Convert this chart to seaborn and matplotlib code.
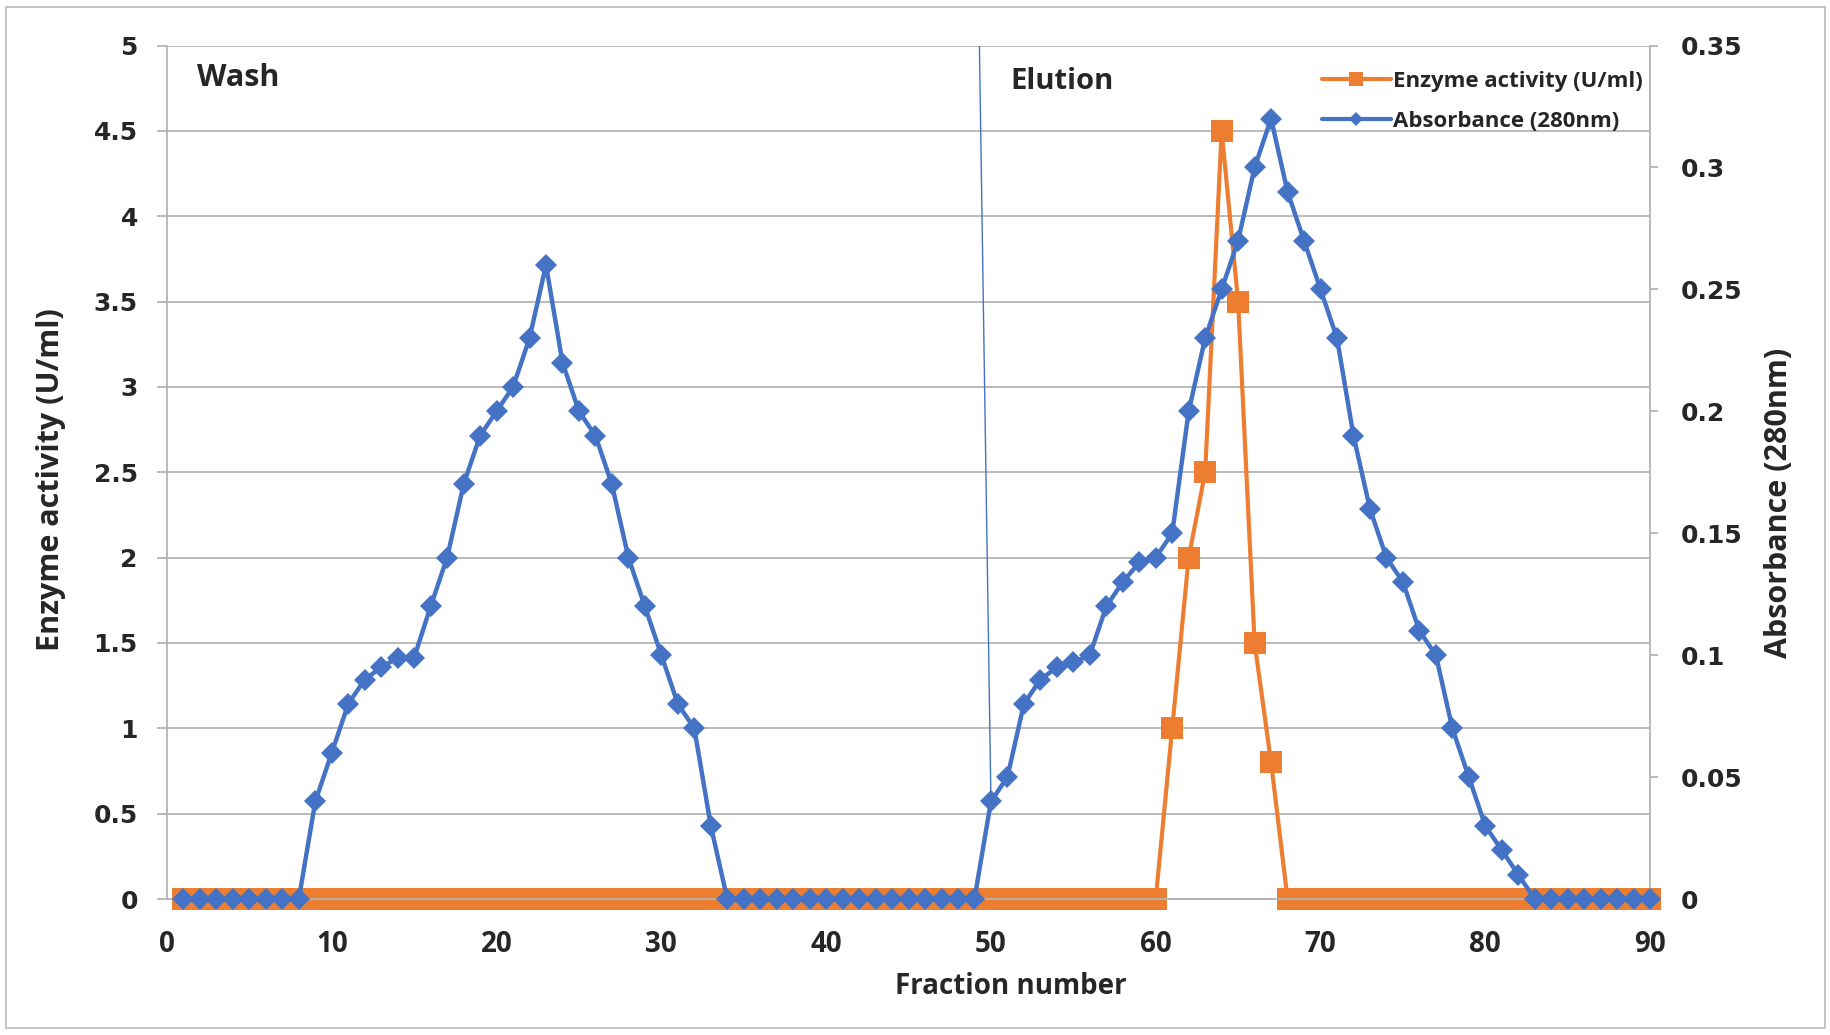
import matplotlib
matplotlib.use("Agg")
import matplotlib.pyplot as plt
import seaborn as sns
import numpy as np
from matplotlib.lines import Line2D
from matplotlib.patches import Rectangle

# ---- data ----
fractions = list(range(1, 91))

enzyme_activity = [0.0] * 60 + [1.0, 2.0, 2.5, 4.5, 3.5, 1.5, 0.8] + [0.0] * 23

absorbance = ([0.0] * 8 +
              [0.04, 0.06, 0.08, 0.09, 0.095, 0.099, 0.099, 0.12, 0.14, 0.17,
               0.19, 0.20, 0.21, 0.23, 0.26, 0.22, 0.20, 0.19, 0.17, 0.14,
               0.12, 0.10, 0.08, 0.07, 0.03] +
              [0.0] * 16 +
              [0.04, 0.05, 0.08, 0.09, 0.095, 0.097, 0.10, 0.12, 0.13, 0.138,
               0.14, 0.15, 0.20, 0.23, 0.25, 0.27, 0.30, 0.32, 0.29, 0.27,
               0.25, 0.23, 0.19, 0.16, 0.14, 0.13, 0.11, 0.10, 0.07, 0.05,
               0.03, 0.02, 0.01] +
              [0.0] * 8)

x_ticks = [0, 10, 20, 30, 40, 50, 60, 70, 80, 90]
left_ticks = [0, 0.5, 1, 1.5, 2, 2.5, 3, 3.5, 4, 4.5, 5]
left_ticklabels = ["0", "0.5", "1", "1.5", "2", "2.5", "3", "3.5", "4", "4.5", "5"]
right_ticks = [0, 0.05, 0.1, 0.15, 0.2, 0.25, 0.3, 0.35]
right_ticklabels = ["0", "0.05", "0.1", "0.15", "0.2", "0.25", "0.3", "0.35"]

ORANGE = "#ED7D31"
BLUE = "#4472C4"
GRID = "#b4b4b4"

sns.set_style("white")
plt.rcParams["font.family"] = ["Open Sans", "DejaVu Sans"]

fig = plt.figure(figsize=(18.31, 10.35), dpi=100)
ax = fig.add_axes([0.0912, 0.1314, 0.8100, 0.8246])
ax2 = ax.twinx()

# enzyme activity (left axis)
sns.lineplot(x=fractions, y=enzyme_activity, ax=ax, color=ORANGE, marker="s",
             markersize=16, markeredgewidth=0, linewidth=3.0, clip_on=False,
             legend=False, zorder=3)
# absorbance (right axis)
sns.lineplot(x=fractions, y=absorbance, ax=ax2, color=BLUE, marker="D",
             markersize=11.5, markeredgewidth=0, linewidth=3.2, clip_on=False,
             legend=False, zorder=3)

# wash/elution divider line
ax2.plot([49.3, 50], [0.35, 0.04], color=BLUE, linewidth=1.0, zorder=2)

ax.set_xlim(0, 90)
ax.set_ylim(0, 5)
ax2.set_ylim(0, 0.35)

ax.set_xticks(x_ticks)
ax.set_xticklabels([str(t) for t in x_ticks], fontsize=20, fontweight="bold")
ax.set_yticks(left_ticks)
ax.set_yticklabels(left_ticklabels, fontsize=18, fontweight="bold",
                   family="DejaVu Sans")
ax2.set_yticks(right_ticks)
ax2.set_yticklabels(right_ticklabels, fontsize=18, fontweight="bold",
                    family="DejaVu Sans")

ax.grid(axis="y", color=GRID, linewidth=1.3)
ax.grid(axis="x", visible=False)
ax.set_axisbelow(True)

for a in (ax, ax2):
    a.spines["top"].set_visible(False)
    for s in ("left", "right", "bottom"):
        a.spines[s].set_color(GRID)
        a.spines[s].set_linewidth(1.3)
ax2.spines["left"].set_visible(False)
ax.spines["right"].set_visible(False)

ax.tick_params(axis="y", which="major", left=True, length=7, width=1.3,
               color=GRID, pad=14)
ax.tick_params(axis="x", which="major", bottom=False, length=0, pad=22)
ax2.tick_params(axis="y", which="major", right=True, length=6, width=1.3,
                color=GRID, pad=16)

ax.set_xlabel("Fraction number", fontsize=20, fontweight="bold")
ax.set_ylabel("Enzyme activity (U/ml)", fontsize=22, fontweight="bold")
ax2.set_ylabel("Absorbance (280nm)", fontsize=22, fontweight="bold")
ax.yaxis.set_label_coords(-0.068, 0.491)
ax2.yaxis.set_label_coords(1.077, 0.464)
ax.xaxis.set_label_coords(0.569, -0.085)

ax.text(1.8, 4.81, "Wash", fontsize=22, fontweight="bold", va="center", ha="left")
ax.text(51.2, 4.79, "Elution", fontsize=21, fontweight="bold", va="center", ha="left")

handles = [
    Line2D([], [], color=ORANGE, marker="s", markersize=10, markeredgewidth=0,
           linewidth=3),
    Line2D([], [], color=BLUE, marker="D", markersize=7, markeredgewidth=0,
           linewidth=3),
]
leg = ax2.legend(handles, ["Enzyme activity (U/ml)", "Absorbance (280nm)"],
                 loc="upper right", bbox_to_anchor=(1.004, 0.986), frameon=False,
                 prop={"size": 16, "weight": "bold"}, handlelength=3.1,
                 handletextpad=0.1, labelspacing=0.85, borderaxespad=0.2)

fig.patches.append(Rectangle((6 / 1831, 7 / 1035), 1819 / 1831, 1021 / 1035,
                             transform=fig.transFigure, fill=False,
                             edgecolor="#bfbfbf", linewidth=1.3))

fig.savefig("out.png", dpi=100)
